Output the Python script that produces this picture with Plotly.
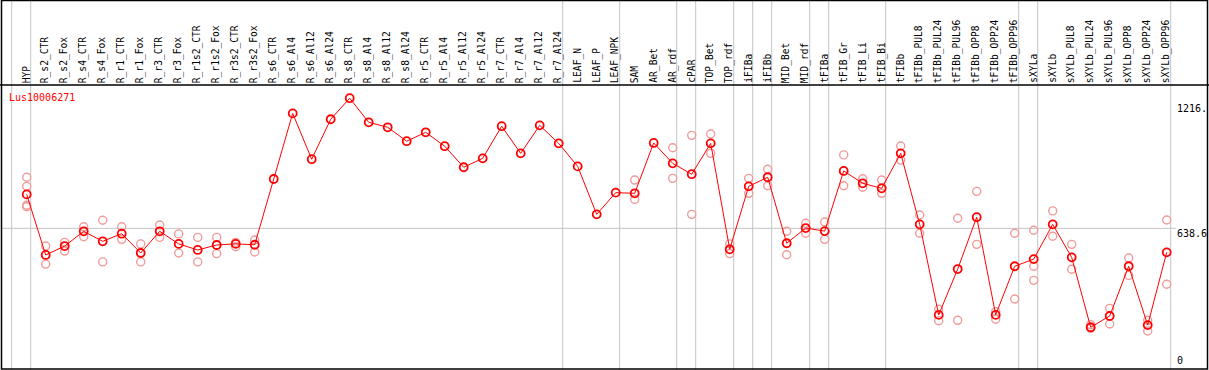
import plotly.graph_objects as go

W, H = 1209, 370

categories = ["HYP", "R_s2_CTR", "R_s2_Fox", "R_s4_CTR", "R_s4_Fox", "R_r1_CTR", "R_r1_Fox",
              "R_r3_CTR", "R_r3_Fox", "R_r1s2_CTR", "R_r1s2_Fox", "R_r3s2_CTR", "R_r3s2_Fox",
              "R_s6_CTR", "R_s6_Al4", "R_s6_Al12", "R_s6_Al24", "R_s8_CTR", "R_s8_Al4",
              "R_s8_Al12", "R_s8_Al24", "R_r5_CTR", "R_r5_Al4", "R_r5_Al12", "R_r5_Al24",
              "R_r7_CTR", "R_r7_Al4", "R_r7_Al12", "R_r7_Al24", "LEAF_N", "LEAF_P", "LEAF_NPK",
              "SAM", "AR_Bet", "AR_rdf", "cPAR", "TOP_Bet", "TOP_rdf", "iFIBa", "iFIBb",
              "MID_Bet", "MID_rdf", "tFIBa", "tFIB_Gr", "tFIB_Li", "tFIB_Bi", "tFIBb",
              "tFIBb_PUL8", "tFIBb_PUL24", "tFIBb_PUL96", "tFIBb_OPP8", "tFIBb_OPP24",
              "tFIBb_OPP96", "sXYLa", "sXYLb", "sXYLb_PUL8", "sXYLb_PUL24", "sXYLb_PUL96",
              "sXYLb_OPP8", "sXYLb_OPP24", "sXYLb_OPP96"]

means = [795, 516, 557, 625, 579, 614, 525, 625, 567, 539, 562, 567, 563,
         866, 1168, 957, 1141, 1238, 1127, 1104, 1040, 1081, 1017, 920, 961,
         1109, 984, 1113, 1030, 924, 703, 803, 800, 1032, 938, 888, 1030, 542,
         832, 874, 570, 640, 626, 903, 846, 823, 984, 657, 240, 451, 690, 240,
         464, 497, 657, 505, 183, 235, 464, 193, 528]

replicates = [[874, 832, 745, 738], [557, 474], [574, 534], [646, 600], [676, 484],
              [646, 588], [567, 484], [654, 597], [613, 525], [597, 484], [597, 522],
              [574, 554], [585, 530],
              [], [], [], [], [], [], [], [], [], [], [], [], [], [], [], [], [], [], [],
              [861, 772], [], [1010, 869], [1067, 703], [1073, 984], [567, 522],
              [869, 800], [911, 835], [625, 517], [662, 616], [668, 588], [977, 835],
              [867, 828], [861, 800], [1018, 953], [700, 616], [266, 213], [685, 215],
              [809, 565], [255, 220], [616, 313], [630, 464, 399], [719, 602],
              [565, 450], [195, 178], [270, 198], [502, 422], [215, 166], [677, 381]]

# group separators: after these category indices (-1 = before the first)
separators_after = [-1, 0, 28, 31, 34, 35, 37, 38, 39, 41, 42, 45, 52, 53, 60]

gene = "Lus10006271"
axis_max = 1277.2
tick_vals = [1216, 638.6, 0]
tick_text = ["1216.", "638.6", "0"]

# ---- layout geometry (pixels) ----
x0_px, step_px = 26.7, 19.0
zero_px, top_px = 367.0, 89.7
header_px = 85

idx = list(range(len(categories)))
rx, ry = [], []
for i, reps in enumerate(replicates):
    for v in reps:
        rx.append(i)
        ry.append(v)

fig = go.Figure()
fig.add_trace(go.Scatter(x=rx, y=ry, mode="markers",
                         marker=dict(symbol="circle-open", size=8, color="#f09a9a",
                                     line=dict(width=1.4, color="#f09a9a")),
                         hoverinfo="skip", cliponaxis=False))
fig.add_trace(go.Scatter(x=idx, y=means, mode="lines+markers",
                         line=dict(color="#ff0000", width=1),
                         marker=dict(symbol="circle-open", size=8, color="#ff0000",
                                     line=dict(width=1.8, color="#ff0000")),
                         text=categories, cliponaxis=False))

def px_to_paper_x(p):
    return p / W

def py_to_paper_y(p):
    return 1 - p / H

shapes = []
for s in separators_after:
    shapes.append(dict(type="line", xref="x", yref="paper",
                       x0=s + 4 / step_px, x1=s + 4 / step_px, y0=0, y1=1,
                       line=dict(color="#c4c4c4", width=1), layer="below"))
shapes.append(dict(type="line", xref="paper", yref="y",
                   x0=px_to_paper_x(2), x1=px_to_paper_x(1176),
                   y0=tick_vals[1], y1=tick_vals[1],
                   line=dict(color="#c4c4c4", width=1), layer="below"))
shapes.append(dict(type="line", xref="paper", yref="paper",
                   x0=0, x1=1, y0=py_to_paper_y(header_px), y1=py_to_paper_y(header_px),
                   line=dict(color="black", width=1.5)))
shapes.append(dict(type="rect", xref="paper", yref="paper",
                   x0=px_to_paper_x(1.5), x1=px_to_paper_x(1207.5),
                   y0=py_to_paper_y(369), y1=py_to_paper_y(0.5),
                   line=dict(color="black", width=1.5), fillcolor="rgba(0,0,0,0)"))

annotations = []
for i, c in enumerate(categories):
    annotations.append(dict(x=i, xref="x", y=py_to_paper_y(83), yref="paper",
                            text=c, textangle=-90, showarrow=False,
                            xanchor="center", yanchor="bottom", xshift=-0.5,
                            borderpad=0, borderwidth=0,
                            font=dict(family="DejaVu Sans Mono", size=9.6, color="black")))
annotations.append(dict(x=px_to_paper_x(9), xref="paper", y=py_to_paper_y(97), yref="paper",
                        text=gene, showarrow=False, xanchor="left", yanchor="middle",
                        borderpad=0, borderwidth=0,
                        font=dict(family="DejaVu Sans Mono", size=10, color="#ff0000")))
for v, t in zip(tick_vals, tick_text):
    annotations.append(dict(x=px_to_paper_x(1177), xref="paper", y=v, yref="y",
                            text=t, showarrow=False, xanchor="left",
                            yanchor="bottom" if v == 0 else "top",
                            yshift=1 if v == 0 else 0,
                            borderpad=0, borderwidth=0,
                            font=dict(family="DejaVu Sans Mono", size=10, color="black")))

x_lo = -x0_px / step_px
x_hi = (W - x0_px) / step_px

fig.update_layout(
    width=W, height=H,
    margin=dict(l=0, r=0, t=0, b=0),
    paper_bgcolor="white", plot_bgcolor="white",
    showlegend=False,
    xaxis=dict(range=[x_lo, x_hi], visible=False, fixedrange=True),
    yaxis=dict(range=[0, axis_max], domain=[(H - zero_px) / H, (H - top_px) / H],
               visible=False, fixedrange=True),
    shapes=shapes, annotations=annotations,
)

fig.write_html("out.html", config={"displayModeBar": False},
               post_script="document.body.style.margin='0';document.body.style.overflow='hidden';")
